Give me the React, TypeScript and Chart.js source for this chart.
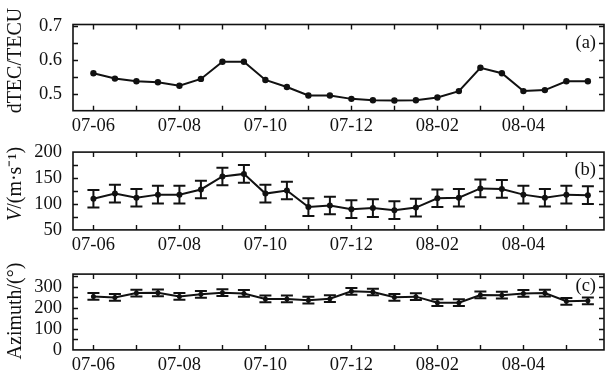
import React, { useEffect, useRef } from "react";
import { Chart, registerables } from "chart.js";
Chart.register(...registerables);

// ---- data ----
const dateLabels = ["07-06", "07-08", "07-10", "07-12", "08-02", "08-04"];
const labelIdx = [0, 4, 8, 12, 16, 20];
const majorIdx = [0, 2, 4, 6, 8, 10, 12, 14, 16, 18, 20, 22];
const pointIdx = [0, 1, 2, 3, 4, 5, 6, 7, 8, 9, 10, 11, 12, 13, 14, 15, 16, 17, 18, 19, 20, 21, 22, 23];

const dtec = [0.561, 0.545, 0.537, 0.534, 0.524, 0.544, 0.595, 0.595, 0.541, 0.52, 0.495, 0.495,
  0.485, 0.481, 0.48, 0.481, 0.489, 0.508, 0.577, 0.561, 0.508, 0.511, 0.537, 0.537];
const speed = [110, 120, 112, 118, 118, 128, 153, 158, 120, 126, 94, 97,
  90, 92, 88, 93, 111, 112, 130, 129, 118, 112, 118, 117];
const speedErr = [17, 17, 17, 17, 17, 17, 17, 17, 17, 17, 17, 17,
  17, 17, 17, 17, 17, 17, 17, 17, 17, 17, 17, 17];
const azimuth = [254, 249, 270, 271, 254, 264, 272, 268, 242, 242, 236, 243,
  278, 275, 250, 253, 224, 224, 261, 260, 268, 270, 231, 233];
const azErr = [16, 16, 16, 16, 16, 16, 16, 16, 16, 16, 16, 16,
  16, 16, 16, 16, 16, 16, 16, 16, 16, 16, 16, 16];

const dtecMajor = [0.5, 0.6, 0.7];
const dtecMinor = [0.55, 0.65];
const speedMajor = [50, 100, 150, 200];
const speedMinor = [75, 125, 175];
const azMajor = [0, 100, 200, 300];
const azMinor = [50, 150, 250, 350];

const FONT = "'Liberation Serif', 'Times New Roman', serif";
const INK = "#111";
const TICK_SIZE = 18.5;
const TITLE_SIZE = 20;

type Part = { t: string; italic?: boolean };
type PanelCfg = {
  top: number; height: number; padTop: number; xh: number;
  values: number[]; errs?: number[]; min: number; max: number;
  major: number[]; minor: number[]; fmt: (v: number) => string;
  title: Part[]; titleShift: number; tag: string; tagDy: number; radius: number;
};

const framePlugin = {
  id: "frameDeco",
  beforeDatasetsDraw(chart: any, _a: any, opts: any) {
    const cfg: PanelCfg = opts.cfg;
    if (!cfg.errs) return;
    const { ctx } = chart;
    const xs = chart.scales.x, ys = chart.scales.y;
    ctx.save();
    ctx.strokeStyle = INK;
    ctx.lineWidth = 2;
    cfg.values.forEach((v, i) => {
      const e = cfg.errs![i];
      const px = xs.getPixelForValue(pointIdx[i]);
      const y1 = ys.getPixelForValue(v + e);
      const y2 = ys.getPixelForValue(v - e);
      ctx.beginPath();
      ctx.moveTo(px, y1); ctx.lineTo(px, y2);
      ctx.moveTo(px - 6, y1); ctx.lineTo(px + 6, y1);
      ctx.moveTo(px - 6, y2); ctx.lineTo(px + 6, y2);
      ctx.stroke();
    });
    ctx.restore();
  },
  afterDraw(chart: any, _a: any, opts: any) {
    const cfg: PanelCfg = opts.cfg;
    const { ctx, chartArea: ca } = chart;
    const xs = chart.scales.x, ys = chart.scales.y;
    ctx.save();
    ctx.strokeStyle = INK;
    ctx.lineWidth = 1.6;
    ctx.strokeRect(ca.left, ca.top, ca.right - ca.left, ca.bottom - ca.top);
    ctx.lineWidth = 1.4;
    ctx.beginPath();
    majorIdx.forEach((m) => {
      const px = Math.round(xs.getPixelForValue(m)) + 0.5;
      ctx.moveTo(px, ca.bottom); ctx.lineTo(px, ca.bottom - 5);
      ctx.moveTo(px, ca.top); ctx.lineTo(px, ca.top + 5);
    });
    [...cfg.major, ...cfg.minor].forEach((v) => {
      if (v <= cfg.min || v >= cfg.max) return;
      const py = Math.round(ys.getPixelForValue(v)) + 0.5;
      ctx.moveTo(ca.left, py); ctx.lineTo(ca.left + 5, py);
      ctx.moveTo(ca.right, py); ctx.lineTo(ca.right - 5, py);
    });
    ctx.stroke();

    // panel tag
    ctx.fillStyle = INK;
    ctx.font = `${TICK_SIZE}px ${FONT}`;
    ctx.textAlign = "right";
    ctx.textBaseline = "middle";
    ctx.fillText(cfg.tag, ca.right - 8, ca.top + cfg.tagDy);

    // axis title (rotated, mixed styles)
    const cy = (ca.top + ca.bottom) / 2 + cfg.titleShift;
    ctx.translate(16, cy);
    ctx.rotate(-Math.PI / 2);
    ctx.textAlign = "left";
    const fontFor = (p: Part) => `${p.italic ? "italic " : ""}${TITLE_SIZE}px ${FONT}`;
    let total = 0;
    cfg.title.forEach((p) => { ctx.font = fontFor(p); total += ctx.measureText(p.t).width; });
    let x = -total / 2;
    cfg.title.forEach((p) => {
      ctx.font = fontFor(p);
      ctx.fillText(p.t, x, 0);
      x += ctx.measureText(p.t).width;
    });
    ctx.restore();
  },
};

function Panel({ cfg }: { cfg: PanelCfg }) {
  const ref = useRef<HTMLCanvasElement>(null);
  useEffect(() => {
    if (!ref.current) return;
    const chart = new Chart(ref.current, {
      type: "line",
      data: {
        datasets: [{
          data: cfg.values.map((v, i) => ({ x: pointIdx[i], y: v })),
          borderColor: INK,
          backgroundColor: INK,
          borderWidth: 2,
          pointRadius: cfg.radius,
          pointBackgroundColor: INK,
          pointBorderWidth: 0,
          tension: 0,
        }],
      },
      options: {
        animation: false,
        responsive: false,
        events: [],
        layout: { padding: { top: cfg.padTop, right: 4, left: 0, bottom: 0 } },
        plugins: {
          legend: { display: false },
          tooltip: { enabled: false },
          frameDeco: { cfg },
        } as any,
        scales: {
          x: {
            type: "linear",
            min: -0.95,
            max: 23.75,
            grid: { display: false, drawTicks: false },
            border: { display: false },
            afterBuildTicks: (s: any) => { s.ticks = labelIdx.map((v) => ({ value: v })); },
            afterFit: (s: any) => { s.height = cfg.xh; },
            ticks: {
              autoSkip: false,
              maxRotation: 0,
              padding: 4,
              color: INK,
              font: { family: FONT, size: TICK_SIZE },
              callback: (v: any) => dateLabels[labelIdx.indexOf(Number(v))] ?? "",
            },
          },
          y: {
            type: "linear",
            min: cfg.min,
            max: cfg.max,
            grid: { display: false, drawTicks: false },
            border: { display: false },
            afterBuildTicks: (s: any) => { s.ticks = cfg.major.map((v) => ({ value: v })); },
            afterFit: (s: any) => { s.width = 73; },
            ticks: {
              padding: 11,
              color: INK,
              font: { family: FONT, size: TICK_SIZE },
              callback: (v: any) => cfg.fmt(Number(v)),
            },
          },
        },
      },
      plugins: [framePlugin],
    } as any);
    return () => chart.destroy();
  }, [cfg]);
  return (
    <div style={{ position: "absolute", left: 0, top: cfg.top, width: 608, height: cfg.height }}>
      <canvas ref={ref} width={608} height={cfg.height} style={{ width: 608, height: cfg.height, display: "block" }} />
    </div>
  );
}

const panels: PanelCfg[] = [
  {
    top: 0, height: 136, padTop: 24.5, xh: 25.3,
    values: dtec, min: 0.45, max: 0.705, major: dtecMajor, minor: dtecMinor,
    fmt: (v) => v.toFixed(1),
    title: [{ t: "dTEC/TECU" }], titleShift: -7, tag: "(a)", tagDy: 19, radius: 3.2,
  },
  {
    top: 130, height: 122, padTop: 15, xh: 20.3,
    values: speed, errs: speedErr, min: 50, max: 200, major: speedMajor, minor: speedMinor,
    fmt: (v) => String(Math.round(v)),
    title: [{ t: "V", italic: true }, { t: "/(m·s⁻¹)" }], titleShift: -7, tag: "(b)", tagDy: 18, radius: 3,
  },
  {
    top: 252, height: 120, padTop: 13.7, xh: 21,
    values: azimuth, errs: azErr, min: 0, max: 360, major: azMajor, minor: azMinor,
    fmt: (v) => String(Math.round(v)),
    title: [{ t: "Azimuth/(°)" }], titleShift: -1, tag: "(c)", tagDy: 12.5, radius: 2.5,
  },
];

export default function App() {
  return (
    <div style={{ position: "fixed", left: 0, top: 0, width: 608, height: 372, background: "#fff", overflow: "hidden" }}>
      {panels.map((p, i) => <Panel key={i} cfg={p} />)}
    </div>
  );
}
